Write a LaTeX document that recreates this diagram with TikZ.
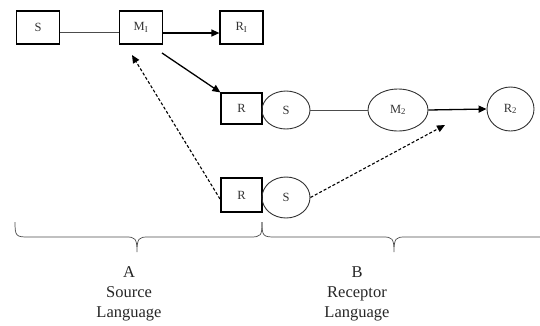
\documentclass[tikz,border=0pt]{standalone}
\usepackage{fontspec}
\setmainfont{Liberation Serif}
\usetikzlibrary{arrows.meta,shapes.geometric}
\begin{document}
\begin{tikzpicture}[x=1pt,y=-1pt,
  boxn/.style={draw=black,line width=1.2pt,minimum width=43pt,minimum height=33pt,inner sep=0pt,text=black!80,font=\fontsize{12.5}{14}\selectfont},
  ell/.style={draw=black!80,line width=0.9pt,ellipse,inner sep=0pt,text=black!80,font=\fontsize{12.5}{14}\selectfont},
  thin/.style={draw=black!70,line width=0.7pt},
  arr/.style={draw=black,line width=1.3pt,-{Triangle[length=8pt,width=7pt]}},
  darr/.style={draw=black,line width=1.1pt,dash pattern=on 3pt off 2pt,-{Triangle[length=8pt,width=7pt]}},
  brace/.style={draw=black!70,line width=0.7pt},
  lab/.style={font=\fontsize{16.5}{20}\selectfont,align=center,inner sep=0pt,text=black!85}]
\useasboundingbox (0,0) rectangle (540,325);
% top row
\node[boxn] (s1) at (38,27.5) {S};
\node[boxn] (m1) at (141,27.5) {M\textsubscript{I}};
\node[boxn] (r1) at (241.5,27.5) {R\textsubscript{I}};
% middle row
\node[boxn,minimum width=41pt,minimum height=31pt] (r2) at (241.5,108.5) {R};
\node[ell,minimum width=48pt,minimum height=38pt] (s2) at (286,110) {S};
\node[ell,minimum width=60pt,minimum height=42pt] (m2) at (398,110) {M\textsubscript{2}};
\node[ell,minimum width=47pt,minimum height=44pt] (rr2) at (510.5,109) {R\textsubscript{2}};
% bottom row
\node[boxn,minimum width=41pt,minimum height=34pt] (r3) at (241.5,195) {R};
\node[ell,minimum width=48pt,minimum height=41pt] (s3) at (286,197.5) {S};
% connectors
\draw[thin] (s1.east |- 0,32) -- (m1.west |- 0,32);
\draw[arr] (m1.east |- 0,33) -- (r1.west |- 0,33);
\coordinate (m1b) at (162,53);
\draw[arr] (m1b) -- (r2.north west);
\draw[thin] (s2.east) -- (m2.west);
\draw[arr] (m2.east) -- (rr2.west);
\coordinate (m1d) at (132,55);
\coordinate (r3w) at (220,199);
\draw[darr] (r3w) -- (m1d);
\coordinate (m2d) at (445,125);
\draw[darr] (s3.east) -- (m2d);
% braces
\draw[brace] (15,222) .. controls (15,236) and (16,237) .. (28,237) -- (126,237)
  .. controls (135,237) and (137,238) .. (137,252)
  .. controls (137,238) and (139,237) .. (148,237) -- (250,237)
  .. controls (261,237) and (262,236) .. (262,222);
\draw[brace] (262,222) .. controls (262,236) and (263,237) .. (275,237) -- (383,237)
  .. controls (392,237) and (394,238) .. (394,252)
  .. controls (394,238) and (396,237) .. (405,237) -- (540,237);
% labels
\node[lab] (a) at (129,294) {A\\Source\\Language};
\node[lab] (b) at (357,294) {B\\Receptor\\Language};
\end{tikzpicture}
\end{document}
